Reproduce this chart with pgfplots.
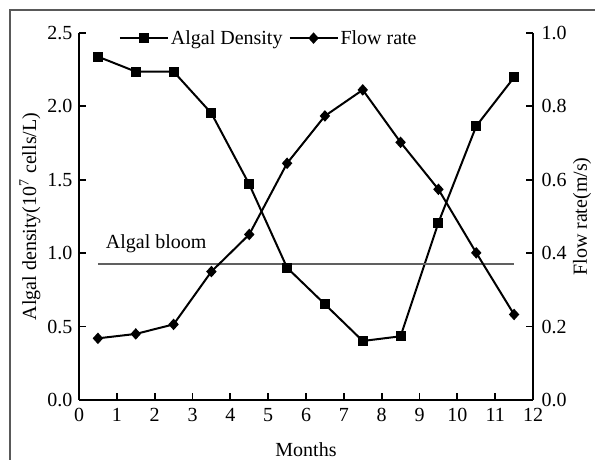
\documentclass[border=0pt]{standalone}
\usepackage{fontspec}
\setmainfont{Liberation Serif}
\usepackage{pgfplots}
\pgfplotsset{compat=1.18}

\pgfplotsset{
  common/.style={
    scale only axis,
    width=454pt, height=367pt,
    at={(79pt,60pt)}, anchor=south west,
    xmin=0, xmax=12,
    font=\fontsize{20}{22}\selectfont,
    ticklabel style={font=\fontsize{20}{22}\selectfont},
    /pgf/number format/assume math mode=true,
    tick align=inside,
    major tick length=7pt,
    tick style={black, line width=1.8pt},
    axis line style={-, line width=2pt},
  },
  dataline/.style={black, line width=2pt, mark options={solid}},
}

\begin{document}
\begin{tikzpicture}
\useasboundingbox (0,0) rectangle (595pt,460pt);
\draw[gray!70!black, line width=1.2pt] (10pt,0pt) -- (10pt,450pt) -- (595pt,450pt);

% left axis: algal density
\begin{axis}[
  common,
  axis x line*=bottom,
  axis y line*=left,
  ymin=0, ymax=2.5,
  xtick={0,1,...,12},
  ytick={0,0.5,1,1.5,2,2.5},
  xticklabel style={yshift=-5pt},
  yticklabel style={xshift=-3pt, /pgf/number format/.cd, fixed, fixed zerofill, precision=1},
  xlabel={Months},
  xlabel style={at={(axis description cs:0.5,-0.136)}, anchor=center},
  ylabel={Algal density(10\textsuperscript{7} cells/L)},
  ylabel style={at={(axis description cs:-0.108,0.5)}, anchor=center},
  legend style={at={(axis description cs:0.418,0.986)}, anchor=center,
    draw=none, fill=none, legend columns=2, inner sep=0pt,
    font=\fontsize{20}{22}\selectfont,
    /tikz/every even column/.append style={column sep=4pt}},
  legend image code/.code={\draw[mark repeat=2, mark phase=2, #1]
    plot coordinates {(0pt,0pt) (24pt,0pt) (48pt,0pt)};},
]
\addplot[dataline, mark=square*, mark size=4pt] coordinates {
  (0.5,2.339) (1.5,2.237) (2.5,2.237) (3.5,1.953) (4.5,1.469) (5.5,0.901)
  (6.5,0.652) (7.5,0.402) (8.5,0.434) (9.5,1.208) (10.5,1.866) (11.5,2.198)
};
\addlegendentry{Algal Density}
\addlegendimage{dataline, mark=diamond*, mark size=4.3pt, mark options={xscale=1.2}}
\addlegendentry{Flow rate}
\addplot[forget plot, gray!75!black, line width=1.8pt] coordinates {(0.5,0.924) (11.5,0.924)};
\node[anchor=west, font=\fontsize{20}{22}\selectfont] at (axis cs:0.62,1.063) {Algal bloom};
\end{axis}

% right axis: flow rate
\begin{axis}[
  common,
  axis y line*=right,
  axis x line=none,
  ymin=0, ymax=1,
  ytick={0,0.2,0.4,0.6,0.8,1.0},
  yticklabel style={xshift=5pt, /pgf/number format/.cd, fixed, fixed zerofill, precision=1},
  ylabel={Flow rate(m/s)},
  ylabel style={at={(axis description cs:1.108,0.5)}, anchor=center},
]
\addplot[dataline, mark=diamond*, mark size=4.3pt, mark options={xscale=1.2}] coordinates {
  (0.5,0.168) (1.5,0.180) (2.5,0.206) (3.5,0.350) (4.5,0.451) (5.5,0.645)
  (6.5,0.774) (7.5,0.845) (8.5,0.702) (9.5,0.574) (10.5,0.401) (11.5,0.233)
};
\end{axis}
\end{tikzpicture}
\end{document}
